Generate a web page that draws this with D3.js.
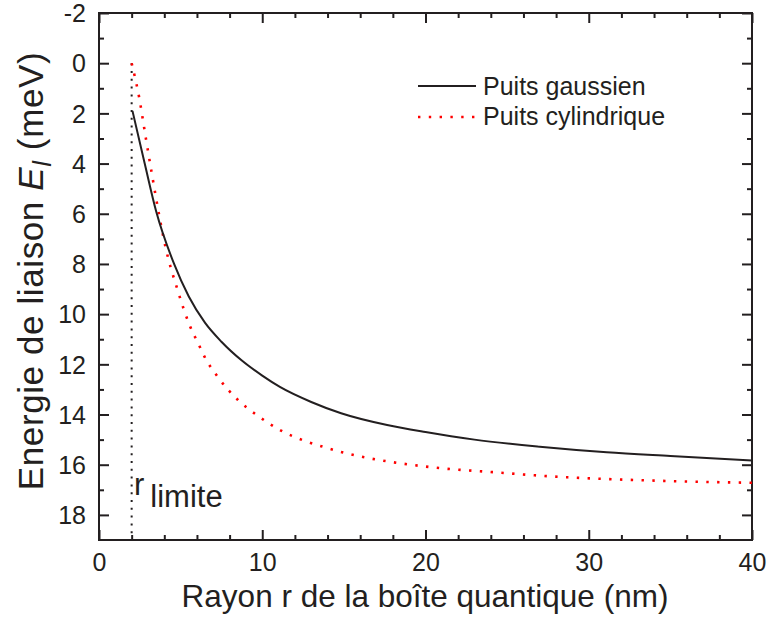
<!DOCTYPE html>
<html><head><meta charset="utf-8">
<script src="https://cdn.jsdelivr.net/npm/d3@7"></script>
<style>
body{margin:0;background:#fff}
text{font-family:"Liberation Sans",Arial,Helvetica,sans-serif;fill:#231f20}
</style>
</head><body>
<svg id="c" width="770" height="618"></svg>
<script>
// ---- data ----
const gaussR = [2.05, 2.8, 3.5, 4.6, 5.5, 6.5, 7.5, 8.75, 10, 11.08, 13, 14.83, 17.65, 20, 23, 27, 31.1, 35, 40];
const gaussE = [1.9, 4.0, 5.9, 8.0, 9.3, 10.35, 11.1, 11.85, 12.45, 12.9, 13.5, 13.95, 14.42, 14.7, 15.0, 15.28, 15.5, 15.65, 15.83];
const cylR = [2, 2.45, 2.88, 3.22, 3.68, 4.09, 4.83, 5.52, 6.13, 6.46, 7.32, 8.48, 9.84, 11.15, 12.47, 13.8, 15.12, 16.46, 17.8, 19.1, 21.1, 23.8, 27.8, 33.8, 40];
const cylE = [0, 1.33, 3.03, 4.34, 6.04, 7.37, 9.07, 10.39, 11.24, 11.69, 12.54, 13.4, 14.1, 14.64, 15.02, 15.3, 15.54, 15.73, 15.88, 16.0, 16.15, 16.28, 16.47, 16.63, 16.72];
const seriesNames = ["Puits gaussien", "Puits cylindrique"];
const xMajorTicks = [0, 10, 20, 30, 40];
const xMinorTicks = [2, 4, 6, 8, 12, 14, 16, 18, 22, 24, 26, 28, 32, 34, 36, 38];
const yMajorTicks = [-2, 0, 2, 4, 6, 8, 10, 12, 14, 16, 18];
const yMinorTicks = [-1, 1, 3, 5, 7, 9, 11, 13, 15, 17];
const rLimite = 2;
const rLimiteE = [0, 19];

// ---- layout ----
const svg = d3.select("#c");
const L = 99, R = 752, T = 13, B = 540;
const x = d3.scaleLinear().domain([0, 40]).range([L, R]);
const y = d3.scaleLinear().domain([-2, 19]).range([T, B]);
const ink = "#231f20";

function axis(gen, tr, ticks, size, labels) {
  const g = svg.append("g").attr("transform", tr)
    .call(gen.tickValues(ticks).tickSizeInner(size).tickSizeOuter(0).tickPadding(13)
      .tickFormat(labels ? (d => String(d)) : () => ""));
  g.select(".domain").remove();
  g.selectAll("line").attr("stroke", ink).attr("stroke-width", 2);
  g.selectAll("text").style("font-size", "25px").attr("fill", ink);
  return g;
}
axis(d3.axisBottom(x), `translate(0,${B})`, xMajorTicks, -10, true);
axis(d3.axisBottom(x), `translate(0,${B})`, xMinorTicks, -5, false);
axis(d3.axisTop(x), `translate(0,${T})`, xMajorTicks, -10, false);
axis(d3.axisTop(x), `translate(0,${T})`, xMinorTicks, -5, false);
const gl = axis(d3.axisLeft(y), `translate(${L},0)`, yMajorTicks, -10, true);
gl.selectAll("text").attr("dy", "0.35em");
axis(d3.axisLeft(y), `translate(${L},0)`, yMinorTicks, -5, false);
axis(d3.axisRight(y), `translate(${R},0)`, yMajorTicks, -10, false);
axis(d3.axisRight(y), `translate(${R},0)`, yMinorTicks, -5, false);

svg.append("rect").attr("x", L).attr("y", T).attr("width", R - L).attr("height", B - T)
  .attr("fill", "none").attr("stroke", ink).attr("stroke-width", 2);

svg.append("line")
  .attr("x1", x(rLimite)).attr("x2", x(rLimite))
  .attr("y1", y(rLimiteE[0])).attr("y2", y(rLimiteE[1]))
  .attr("stroke", ink).attr("stroke-width", 2).attr("stroke-dasharray", "2,5.8");

const line = d3.line().x(d => x(d[0])).y(d => y(d[1])).curve(d3.curveMonotoneX);
svg.append("path").datum(cylR.map((r, i) => [r, cylE[i]]))
  .attr("d", line).attr("fill", "none").attr("stroke", "#ff0000")
  .attr("stroke-width", 2.6).attr("stroke-dasharray", "2.4,8.4");
svg.append("path").datum(gaussR.map((r, i) => [r, gaussE[i]]))
  .attr("d", line).attr("fill", "none").attr("stroke", ink).attr("stroke-width", 2);

// legend
const lg = svg.append("g");
lg.append("line").attr("x1", 418).attr("x2", 476).attr("y1", 86).attr("y2", 86)
  .attr("stroke", ink).attr("stroke-width", 2);
lg.append("line").attr("x1", 418).attr("x2", 478).attr("y1", 117).attr("y2", 117)
  .attr("stroke", "#ff0000").attr("stroke-width", 2.6).attr("stroke-dasharray", "2.4,8.4");
lg.append("text").attr("x", 483).attr("y", 95).style("font-size", "25px").text(seriesNames[0]);
lg.append("text").attr("x", 483).attr("y", 125).style("font-size", "25px").text(seriesNames[1]);

// r limite label
const rl = svg.append("text").attr("x", 134).attr("y", 495).style("font-size", "31px");
rl.append("tspan").text("r");
rl.append("tspan").attr("dx", 6).attr("dy", 12).text("limite");

// axis titles
svg.append("text").attr("x", 425).attr("y", 607).attr("text-anchor", "middle").style("font-size", "31.5px")
  .text("Rayon r de la boîte quantique (nm)");

const yt = svg.append("text").attr("transform", "translate(43,271) rotate(-90)")
  .attr("text-anchor", "middle").style("font-size", "35px").style("letter-spacing", "0.6px");
yt.append("tspan").text("Energie de liaison ");
yt.append("tspan").style("font-style", "italic").text("E");
yt.append("tspan").style("font-style", "italic").style("font-size", "26px").attr("dy", 8).text("l");
yt.append("tspan").attr("dy", -8).text(" (meV)");
</script>
</body></html>
